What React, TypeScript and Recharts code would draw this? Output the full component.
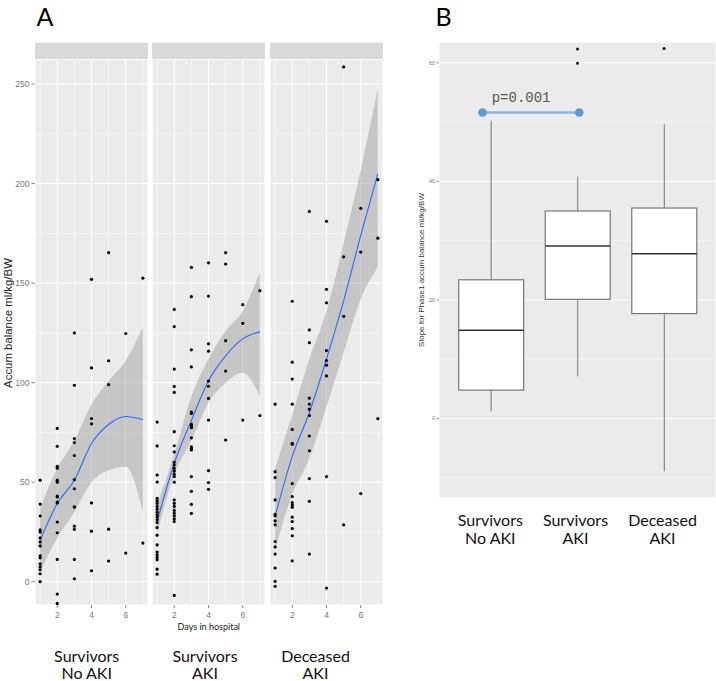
import {
  ComposedChart,
  Scatter,
  Line,
  Area,
  Bar,
  XAxis,
  YAxis,
  CartesianGrid,
  ReferenceLine,
  ReferenceDot,
} from "recharts";

// ---- panel A: accumulated balance by day, one facet per group ----
const DAYS = [1, 2, 3, 4, 5, 6, 7];

// values per day (index 0 = day 1)
const noAkiPoints: number[][] = [
  [51, 39, 33, 26, 25, 22, 20, 18, 13, 12, 9, 7.5, 6, 4, 0],
  [77, 68, 58, 57, 51, 50, 43, 42.6, 40, 39.6, 30, 24.6, 11.2, -6.2, -10.9],
  [125, 98.7, 71.9, 69.9, 63.4, 51.3, 46.7, 37.6, 37.5, 27.9, 26.3, 11.2, 1.5],
  [151.9, 107.4, 82, 79.3, 39.6, 25.4, 5.5],
  [165.3, 111, 99, 26.4, 10.4],
  [124.7, 14.4],
  [152.5, 19.4],
];
const akiPoints: number[][] = [
  [80.2, 68.2, 53.6, 50.1, 41.9, 40.6, 39.4, 37.8, 36.4, 34.9, 33.6, 32.4, 31.1, 29.7, 27.2, 23.4, 18.5, 14.9, 13.5, 12.2, 11, 6.3, 3.8],
  [136.8, 128.2, 106.8, 98.1, 95.1, 75.4, 68.3, 65.2, 60, 58.6, 57, 55.6, 54, 52.8, 50, 41.1, 39.4, 37.8, 35.8, 34.4, 33.1, 31.6, 30.2, -6.9],
  [157.9, 143.2, 116.5, 107.9, 85.2, 84.5, 79, 78.2, 77.4, 72.3, 67.8, 67, 66.2, 52.8, 45.4, 38.9, 34.3],
  [160.2, 143.5, 119.5, 115.8, 100.8, 98.2, 92.1, 81.2, 55.8, 49.8, 46.4],
  [165.3, 159.6, 121.1, 105.8, 71.2],
  [139.2, 129.8, 81.2],
  [146.2, 83.5],
];
const deceasedPoints: number[][] = [
  [89.2, 55.3, 52.3, 41.1, 33.9, 33.1, 30.6, 28.6, 20.2, 17.5, 13.9, 6.9, 0.2, -2.3],
  [140.9, 110.3, 101.8, 89.2, 76.5, 69.5, 69, 49.3, 42.8, 39.8, 38.6, 37.4, 32.4, 30.2, 26.7, 23.1, 10.5],
  [186, 126.5, 120.1, 92.2, 89.2, 86.7, 83.5, 73.2, 65.8, 51.8, 40.4, 13.9],
  [181.1, 146.9, 140.1, 116.1, 111.1, 108.8, 103.4, 52.8, -3.2],
  [258.6, 163.2, 133.3, 28.6],
  [187.6, 165.6, 44.3],
  [202, 172.6, 81.9],
];

// loess fit and its confidence band, read at each day
const noAkiFit = [20.9, 39.3, 51, 69.4, 79, 83, 81.4];
const noAkiLo = [5, 22, 35, 50, 56, 57.7, 35];
const noAkiHi = [37, 57, 71, 89, 101, 111, 128];
const akiFit = [30.2, 59.5, 81, 101, 113.5, 122, 125.5];
const akiLo = [24.4, 54, 71, 90, 100, 105, 93];
const akiHi = [38.6, 64, 93, 112, 126, 136, 155.5];
const deceasedFit = [33, 63, 85, 112, 141, 174, 205];
const deceasedLo = [16, 44, 62, 88, 115, 142, 158];
const deceasedHi = [57, 84, 112, 136, 170, 207, 248];

// ---- panel B: slope boxplots ----
const boxGroups = [1, 2, 3];
const boxMin = [1.2, 7.1, -8.9];
const boxQ1 = [4.8, 20.1, 17.7];
const boxMedian = [14.9, 29.1, 27.8];
const boxQ3 = [23.4, 35.0, 35.5];
const boxMax = [50.2, 40.8, 49.6];
const outlierGroup = [2, 2, 3];
const outlierValue = [62.3, 59.9, 62.4];

const GROUP_NAMES = [
  ["Survivors", "No AKI"],
  ["Survivors", "AKI"],
  ["Deceased", "AKI"],
];

const X_DOMAIN_A: [number, number] = [0.7, 7.3];
const Y_DOMAIN_A: [number, number] = [-11.7, 262.6];
const Y_DOMAIN_B: [number, number] = [-13.4, 63.5];

const SANS = "'Liberation Sans', Arial, sans-serif";
const HUMAN = "Lato, 'Open Sans', sans-serif";

const toPoints = (byDay: number[][]) =>
  byDay.flatMap((vals, i) => vals.map((y) => ({ x: DAYS[i], y })));

const toFit = (fit: number[], lo: number[], hi: number[]) =>
  DAYS.map((x, i) => ({ x, fit: fit[i], lo: lo[i], hi: hi[i] }));

const facets = [
  { left: 0, points: toPoints(noAkiPoints), fit: toFit(noAkiFit, noAkiLo, noAkiHi), showY: true },
  { left: 152, points: toPoints(akiPoints), fit: toFit(akiFit, akiLo, akiHi), showY: false },
  { left: 270, points: toPoints(deceasedPoints), fit: toFit(deceasedFit, deceasedLo, deceasedHi), showY: false },
];

const boxData = boxGroups.map((x, i) => ({
  x,
  min: boxMin[i],
  q1: boxQ1[i],
  median: boxMedian[i],
  q3: boxQ3[i],
  max: boxMax[i],
}));
const outliers = outlierGroup.map((x, i) => ({ x, y: outlierValue[i] }));

const Dot = (p: any) => <circle cx={p.cx} cy={p.cy} r={1.6} fill="#000" />;
const SmallDot = (p: any) => <circle cx={p.cx} cy={p.cy} r={1.5} fill="#111" />;

const BoxShape = (props: any) => {
  const { x, y, width, height, payload } = props;
  const top = Math.min(y, y + height);
  const bottom = Math.max(y, y + height);
  const toY = (v: number) =>
    top + ((bottom - top) * (payload.max - v)) / (payload.max - payload.min);
  const cx = x + width / 2;
  return (
    <g>
      <line x1={cx} x2={cx} y1={toY(payload.max)} y2={toY(payload.min)} stroke="#777" strokeWidth={1} />
      <rect
        x={x}
        y={toY(payload.q3)}
        width={width}
        height={toY(payload.q1) - toY(payload.q3)}
        fill="#fff"
        stroke="#777"
        strokeWidth={1.2}
      />
      <line x1={x} x2={x + width} y1={toY(payload.median)} y2={toY(payload.median)} stroke="#333" strokeWidth={1.6} />
    </g>
  );
};

function Facet({ left, points, fit, showY }: any) {
  return (
    <div style={{ position: "absolute", left, top: 59 }}>
      <ComposedChart
        width={showY ? 148 : 113}
        height={568}
        data={fit}
        margin={{ top: 0, right: 0, bottom: 0, left: 0 }}
      >
        <XAxis xAxisId="minor" type="number" dataKey="x" domain={X_DOMAIN_A} ticks={[1, 3, 5, 7]} hide allowDataOverflow />
        <YAxis yAxisId="minor" type="number" domain={Y_DOMAIN_A} ticks={[25, 75, 125, 175, 225]} hide allowDataOverflow />
        <CartesianGrid xAxisId="minor" yAxisId="minor" stroke="#fff" strokeWidth={0.5} fill="#EBEBEB" />
        <CartesianGrid stroke="#fff" strokeWidth={1} />
        <XAxis
          type="number"
          dataKey="x"
          domain={X_DOMAIN_A}
          ticks={[2, 4, 6]}
          allowDataOverflow
          axisLine={false}
          height={22}
          tickSize={3}
          tickMargin={4}
          tickLine={{ stroke: "#888" }}
          tick={{ fontSize: 8.5, fill: "#777", fontFamily: SANS }}
        />
        <YAxis
          type="number"
          domain={Y_DOMAIN_A}
          ticks={[0, 50, 100, 150, 200, 250]}
          allowDataOverflow
          hide={!showY}
          width={35}
          axisLine={false}
          tickSize={3.5}
          tickMargin={2}
          tickLine={{ stroke: "#888" }}
          tick={{ fontSize: 8.5, fill: "#777", fontFamily: SANS }}
        />
        <Scatter data={points} dataKey="y" shape={Dot} isAnimationActive={false} />
        <Area
          dataKey={(d: any) => [d.lo, d.hi]}
          type="monotone"
          stroke="none"
          fill="#999999"
          fillOpacity={0.45}
          isAnimationActive={false}
        />
        <Line dataKey="fit" type="monotone" stroke="#3366FF" strokeWidth={1.1} dot={false} isAnimationActive={false} />
      </ComposedChart>
    </div>
  );
}

export default function App() {
  return (
    <div style={{ position: "absolute", left: 0, top: 0, width: 716, height: 681, background: "#fff", overflow: "hidden" }}>
      <svg width={716} height={681} style={{ position: "absolute", left: 0, top: 0 }}>
        <text x={36.5} y={26} fontSize={25} fontFamily={HUMAN} fill="#000">A</text>
        <text x={435.5} y={26} fontSize={25} fontFamily={HUMAN} fill="#000">B</text>
        {facets.map((f, i) => (
          <rect key={i} x={f.showY ? 35 : f.left} y={42.7} width={113} height={16.6} fill="#D9D9D9" />
        ))}
        <text
          transform="translate(11.5,323) rotate(-90)"
          textAnchor="middle"
          fontSize={11.4}
          fontFamily={SANS}
          fill="#222"
        >
          Accum balance ml/kg/BW
        </text>
        <text x={208.8} y={629.5} textAnchor="middle" fontSize={9} fontFamily={HUMAN} fill="#222">
          Days in hospital
        </text>
        {[86.7, 205, 315.5].map((cx, i) => (
          <text key={i} x={cx} textAnchor="middle" fontSize={16} fontFamily={HUMAN} fill="#111">
            <tspan x={cx} y={661.7}>{GROUP_NAMES[i][0]}</tspan>
            <tspan x={cx} y={679}>{GROUP_NAMES[i][1]}</tspan>
          </text>
        ))}
        <text
          transform="translate(424,270) rotate(-90)"
          textAnchor="middle"
          fontSize={8}
          fontFamily={SANS}
          fill="#333"
        >
          Slope for Phase1 accum balance ml/kg/BW
        </text>
        {[490.3, 575.5, 662.5].map((cx, i) => (
          <text key={i} x={cx} textAnchor="middle" fontSize={16} fontFamily={HUMAN} fill="#111">
            <tspan x={cx} y={526}>{GROUP_NAMES[i][0]}</tspan>
            <tspan x={cx} y={544}>{GROUP_NAMES[i][1]}</tspan>
          </text>
        ))}
      </svg>

      {facets.map((f, i) => (
        <Facet key={i} {...f} />
      ))}

      <div style={{ position: "absolute", left: 405, top: 42 }}>
        <ComposedChart width={311} height={466} data={boxData} margin={{ top: 0, right: 0, bottom: 0, left: 0 }}>
          <YAxis yAxisId="minor" type="number" domain={Y_DOMAIN_B} ticks={[-10, 10, 30, 50]} hide allowDataOverflow />
          <CartesianGrid yAxisId="minor" vertical={false} stroke="#fff" strokeWidth={0.5} fill="#EBEBEB" />
          <CartesianGrid stroke="#fff" strokeWidth={1} />
          <XAxis
            type="number"
            dataKey="x"
            domain={[0.4, 3.6]}
            ticks={[1, 2, 3]}
            allowDataOverflow
            axisLine={false}
            height={10}
            tickSize={3}
            tick={false}
            tickLine={{ stroke: "#888" }}
          />
          <YAxis
            type="number"
            domain={Y_DOMAIN_B}
            ticks={[0, 20, 40, 60]}
            allowDataOverflow
            width={34}
            axisLine={false}
            tickSize={2.5}
            tickMargin={1.5}
            tickLine={{ stroke: "#888" }}
            tick={{ fontSize: 5.5, fill: "#777", fontFamily: SANS }}
          />
          <Bar
            dataKey={(d: any) => [d.min, d.max]}
            barSize={65}
            shape={BoxShape}
            isAnimationActive={false}
          />
          <Scatter data={outliers} dataKey="y" shape={SmallDot} isAnimationActive={false} />
          <ReferenceLine
            segment={[
              { x: 0.903, y: 51.6 },
              { x: 2.02, y: 51.6 },
            ]}
            stroke="#8DB3E2"
            strokeWidth={2.5}
          />
          <ReferenceDot x={0.903} y={51.6} r={4.3} fill="#5B9BD5" stroke="none" />
          <ReferenceDot x={2.02} y={51.6} r={4.3} fill="#5B9BD5" stroke="none" />
        </ComposedChart>
      </div>

      <svg width={716} height={681} style={{ position: "absolute", left: 0, top: 0, pointerEvents: "none" }}>
        <text x={491.7} y={101.7} fontSize={14} fontFamily="'Liberation Mono', 'Courier New', monospace" fill="#555">
          p=0.001
        </text>
      </svg>
    </div>
  );
}
